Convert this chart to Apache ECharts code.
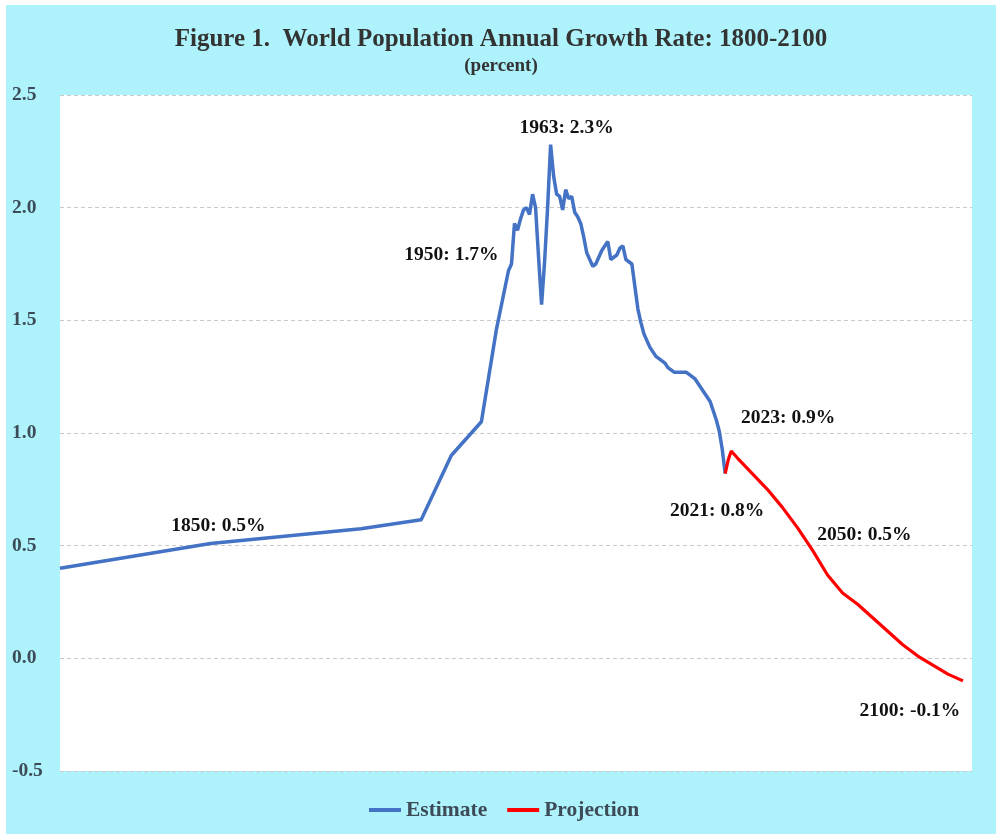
<!DOCTYPE html>
<html>
<head>
<meta charset="utf-8">
<script src="https://cdn.jsdelivr.net/npm/echarts@6/dist/echarts.min.js"></script>
<style>
html,body{margin:0;padding:0;background:#fff;width:1000px;height:840px;overflow:hidden;}
#wrap{position:absolute;left:6px;top:5px;width:990px;height:829px;background:#aef3fb;}
#chart{width:990px;height:829px;}
</style>
</head>
<body>
<div id="wrap"><div id="chart"></div></div>
<script>
// Estimate (historical) growth rate, percent
const estYears = [1800,1850,1900,1920,1930,1940,1945,1949,1950,1951,1952,1953,1954,1955,1956,1957,1958,1959,1960,1961,1962,1963,1964,1965,1966,1967,1968,1969,1970,1971,1972,1973,1974,1975,1976,1977,1978,1979,1980,1981,1982,1983,1984,1985,1986,1987,1988,1989,1990,1991,1992,1993,1994,1995,1996,1997,1998,1999,2000,2001,2002,2003,2004,2005,2006,2007,2008,2009,2010,2011,2012,2013,2014,2015,2016,2017,2018,2019,2020,2021];
const estValues = [0.40,0.51,0.575,0.615,0.90,1.05,1.46,1.72,1.75,1.93,1.90,1.95,1.99,2.00,1.97,2.06,2.00,1.78,1.57,1.76,2.00,2.28,2.14,2.06,2.05,1.99,2.08,2.04,2.05,1.98,1.96,1.93,1.87,1.80,1.77,1.74,1.75,1.78,1.81,1.83,1.85,1.77,1.78,1.79,1.82,1.83,1.77,1.76,1.75,1.65,1.55,1.49,1.44,1.41,1.38,1.36,1.34,1.33,1.32,1.31,1.29,1.28,1.27,1.27,1.27,1.27,1.27,1.26,1.25,1.24,1.22,1.20,1.18,1.16,1.14,1.10,1.06,1.01,0.93,0.82];
// Projection growth rate, percent
const projYears = [2021,2022,2023,2025,2030,2035,2040,2045,2050,2055,2060,2065,2070,2075,2080,2085,2090,2095,2100];
const projValues = [0.82,0.88,0.92,0.89,0.82,0.75,0.67,0.58,0.48,0.37,0.29,0.24,0.18,0.12,0.06,0.01,-0.03,-0.07,-0.10];
// Annotations
const noteYears = [1850,1950,1963,2021,2023,2050,2100];
const noteTexts = ['1850: 0.5%','1950: 1.7%','1963: 2.3%','2021: 0.8%','2023: 0.9%','2050: 0.5%','2100: -0.1%'];
// Y ticks
const yTicks = [-0.5,0.0,0.5,1.0,1.5,2.0,2.5];

const SERIF = '"Liberation Serif","Times New Roman",serif';
const noteOffsets = {1850:[8,-17],1950:[-60,-9],1963:[16,-17],2021:[-8,37],2023:[57,-33],2050:[52,-15],2100:[-53,30]};

function valueAt(year){
  let i = projYears.indexOf(year);
  if (year > 2021 && i >= 0) return projValues[i];
  i = estYears.indexOf(year);
  if (i >= 0) return estValues[i];
  i = projYears.indexOf(year);
  return projValues[i];
}

const notes = noteYears.map((y,k)=>({
  coord:[y, valueAt(y)],
  symbol:'circle', symbolSize:1,
  itemStyle:{color:'rgba(0,0,0,0)'},
  label:{show:true, position:'inside', formatter:noteTexts[k], offset:noteOffsets[y],
    fontFamily:SERIF, fontWeight:'bold', fontSize:19.5, color:'#111'}
}));

const chart = echarts.init(document.getElementById('chart'));
chart.setOption({
  animation:false,
  backgroundColor:'#aef3fb',
  title:{
    text:'Figure 1.  World Population Annual Growth Rate: 1800-2100',
    subtext:'(percent)',
    left:'center', top:17, itemGap:5,
    textStyle:{fontFamily:SERIF, fontWeight:'bold', fontSize:25, color:'#333'},
    subtextStyle:{fontFamily:SERIF, fontWeight:'bold', fontSize:19, color:'#333'}
  },
  grid:{left:54, top:90, right:24, bottom:63, show:true, backgroundColor:'#ffffff', borderWidth:0},
  legend:{
    bottom:8, left:358, itemWidth:32, itemHeight:4, itemGap:20, icon:'rect',
    textStyle:{fontFamily:SERIF, fontWeight:'bold', fontSize:21.5, color:'#3c4b57'},
    data:['Estimate','Projection']
  },
  xAxis:{type:'value', min:1800, max:2103, show:false},
  yAxis:{type:'value', min:yTicks[0], max:yTicks[yTicks.length-1], interval:0.5,
    axisLine:{show:false}, axisTick:{show:false},
    axisLabel:{formatter:v=>v.toFixed(1), align:'left', margin:48,
      fontFamily:SERIF, fontWeight:'bold', fontSize:19.5, color:'#3c4b57'},
    splitLine:{show:true, lineStyle:{type:[4,3], color:'#c9c9c9', width:1}}
  },
  series:[
    {name:'Estimate', type:'line', symbol:'none', smooth:false,
      data:estYears.map((y,i)=>[y,estValues[i]]),
      lineStyle:{color:'#4472c4', width:3.5}, itemStyle:{color:'#4472c4'},
      markPoint:{data:notes.filter(n=>n.coord[0]<2022)}
    },
    {name:'Projection', type:'line', symbol:'none',
      data:projYears.map((y,i)=>[y,projValues[i]]),
      lineStyle:{color:'#ff0000', width:3.2}, itemStyle:{color:'#ff0000'},
      markPoint:{data:notes.filter(n=>n.coord[0]>2022)}
    }
  ]
});
</script>
</body>
</html>
